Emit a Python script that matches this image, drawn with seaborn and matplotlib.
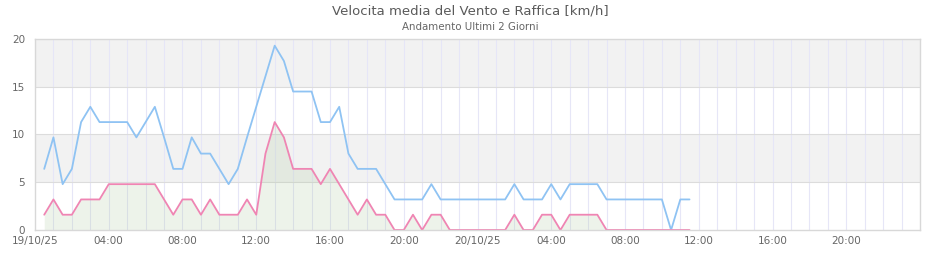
import matplotlib
matplotlib.use("Agg")
import matplotlib.pyplot as plt
import seaborn as sns
import pandas as pd

# ---- data (km/h), one sample every 30 minutes starting 19/10/25 00:30 ----
raffica = [
    6.4, 9.7, 4.8, 6.4, 11.3, 12.9, 11.3, 11.3, 11.3, 11.3,
    9.7, 11.3, 12.9, 9.7, 6.4, 6.4, 9.7, 8.0, 8.0, 6.4,
    4.8, 6.4, 9.7, 12.9, 16.1, 19.3, 17.7, 14.5, 14.5, 14.5,
    11.3, 11.3, 12.9, 8.0, 6.4, 6.4, 6.4, 4.8, 3.2, 3.2,
    3.2, 3.2, 4.8, 3.2, 3.2, 3.2, 3.2, 3.2, 3.2, 3.2,
    3.2, 4.8, 3.2, 3.2, 3.2, 4.8, 3.2, 4.8, 4.8, 4.8,
    4.8, 3.2, 3.2, 3.2, 3.2, 3.2, 3.2, 3.2, 0.0, 3.2,
    3.2,
]
media = [
    1.6, 3.2, 1.6, 1.6, 3.2, 3.2, 3.2, 4.8, 4.8, 4.8,
    4.8, 4.8, 4.8, 3.2, 1.6, 3.2, 3.2, 1.6, 3.2, 1.6,
    1.6, 1.6, 3.2, 1.6, 8.0, 11.3, 9.7, 6.4, 6.4, 6.4,
    4.8, 6.4, 4.8, 3.2, 1.6, 3.2, 1.6, 1.6, 0.0, 0.0,
    1.6, 0.0, 1.6, 1.6, 0.0, 0.0, 0.0, 0.0, 0.0, 0.0,
    0.0, 1.6, 0.0, 0.0, 1.6, 1.6, 0.0, 1.6, 1.6, 1.6,
    1.6, 0.0, 0.0, 0.0, 0.0, 0.0, 0.0, 0.0, 0.0, 0.0,
    0.0,
]
x_tick_labels = ["19/10/25", "04:00", "08:00", "12:00", "16:00", "20:00",
                 "20/10/25", "04:00", "08:00", "12:00", "16:00", "20:00"]
y_ticks = [0, 5, 10, 15, 20]

times = pd.date_range("2025-10-19 00:30", periods=len(media), freq="30min")
df = pd.DataFrame({"time": times, "raffica": raffica, "media": media})

sns.set_style("white")
plt.rcParams["font.family"] = ["DejaVu Sans"]

fig = plt.figure(figsize=(9.4, 2.6), dpi=100)
ax = fig.add_axes([35 / 940, 1 - 230 / 260, 885 / 940, 191 / 260])

x0 = pd.Timestamp("2025-10-19 00:00")
x1 = pd.Timestamp("2025-10-21 00:00")

# alternating bands
for lo, hi in [(5, 10), (15, 20)]:
    ax.axhspan(lo, hi, color="#f2f2f2", zorder=0, lw=0)
# vertical hourly grid
for h in pd.date_range(x0 + pd.Timedelta(hours=1), x1 - pd.Timedelta(hours=1), freq="1h"):
    ax.axvline(h, color="#e6e6f7", lw=0.8, zorder=1)
for yv in [5, 10, 15]:
    ax.axhline(yv, color="#dcdcdc", lw=0.8, zorder=1)

ax.fill_between(df["time"], df["media"], 0, color="#a9c79a", alpha=0.2, lw=0, zorder=2)
sns.lineplot(data=df, x="time", y="raffica", ax=ax, color="#8fc3f3", lw=1.3, zorder=3)
sns.lineplot(data=df, x="time", y="media", ax=ax, color="#ef85b3", lw=1.3, zorder=4)

ax.set_xlim(x0, x1)
ax.set_ylim(0, 20)
ax.set_xlabel("")
ax.set_ylabel("")

tick_pos = pd.date_range(x0, periods=len(x_tick_labels), freq="4h")
ax.set_xticks(tick_pos)
ax.set_xticklabels(x_tick_labels)
ax.set_yticks(y_ticks)
ax.set_yticklabels([str(v) for v in y_ticks])
ax.tick_params(axis="both", length=0, labelsize=7.5, labelcolor="#666666")
ax.tick_params(axis="x", pad=4)
ax.tick_params(axis="y", pad=7)

for s in ax.spines.values():
    s.set_color("#d8d8d8")
    s.set_linewidth(1.0)
    s.set_zorder(5)

fig.text(0.5, 1 - 11 / 260, "Velocita media del Vento e Raffica [km/h]",
         ha="center", va="center", fontsize=9.5, color="#5a5a5a")
fig.text(0.5, 1 - 27 / 260, "Andamento Ultimi 2 Giorni",
         ha="center", va="center", fontsize=7.4, color="#666666")

fig.savefig("out.png", dpi=100)
